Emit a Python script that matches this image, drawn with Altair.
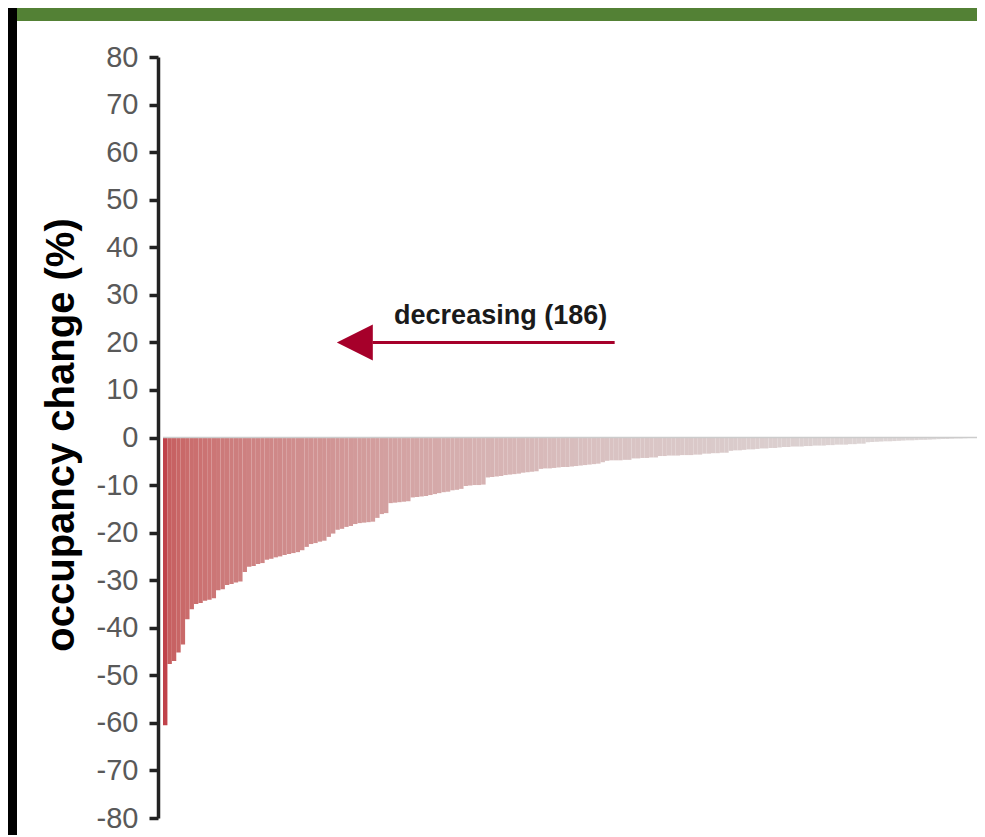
import altair as alt
import pandas as pd

# ---- data ----
values = [
    -60.5, -47.6, -47.0, -45.2, -43.5, -38.2, -36.1, -35.0, -34.8, -34.3,
    -34.1, -33.8, -32.1, -31.9, -31.0, -30.8, -30.5, -30.3, -28.3, -27.2,
    -27.0, -26.6, -26.4, -25.7, -25.5, -25.2, -25.0, -24.7, -24.5, -24.3,
    -24.1, -23.7, -23.0, -22.4, -22.2, -21.9, -21.7, -20.9, -20.2, -19.4,
    -19.2, -18.8, -18.6, -18.2, -18.0, -17.9, -17.8, -17.7, -16.9, -16.1,
    -15.9, -13.8, -13.7, -13.6, -13.5, -13.4, -12.6, -12.5, -12.4, -12.3,
    -12.1, -11.9, -11.7, -11.5, -11.4, -11.1, -11.0, -10.8, -10.2, -10.1,
    -10.0, -10.0, -9.9, -8.4, -8.3, -8.2, -8.1, -7.9, -7.8, -7.7,
    -7.6, -7.4, -7.3, -7.2, -7.1,
    -6.6, -6.5, -6.5, -6.4, -6.3, -6.2, -6.2, -6.1, -6.0, -5.9, -5.8, -5.7, -5.6, -5.5,
    -5.2,
    -4.9, -4.8, -4.8, -4.8, -4.7, -4.7,
    -4.4, -4.4, -4.3, -4.3, -4.2, -4.2,
    -3.9, -3.9, -3.8, -3.8, -3.8, -3.7, -3.7, -3.7, -3.6, -3.6,
    -3.4, -3.4, -3.3, -3.3, -3.2, -3.2,
    -2.8, -2.7, -2.7, -2.6, -2.5, -2.5, -2.4, -2.3, -2.3, -2.2, -2.2, -2.1,
    -2.0, -2.0, -1.9, -1.9, -1.9, -1.8, -1.8, -1.7, -1.7, -1.7, -1.6, -1.6,
    -1.5, -1.5, -1.5, -1.4, -1.4, -1.3, -1.3,
    -1.0, -0.95, -0.9, -0.85, -0.8, -0.8, -0.75, -0.7, -0.65, -0.6, -0.6,
    -0.55, -0.5, -0.5, -0.45, -0.4,
    -0.35, -0.3, -0.3, -0.25, -0.2, -0.2, -0.15, -0.1, -0.08, -0.05, -0.02,
]
ranks = list(range(len(values)))

y_ticks = list(range(-80, 81, 10))
color_stops = [0, 1, 5, 15, 30, 50, 70, 100, 140, 185]
color_range = ["#c0424a", "#c65f60", "#ca6c6c", "#cd7d7d", "#d08e8e",
               "#d3a0a0", "#d6b1b1", "#d9c2c2", "#dbcfcf", "#dedada"]

arrow_x = [47.4]
arrow_x2 = [102.2]
arrow_tip_x = [43.4]
arrow_y = [20]
label_x = [76.4]
label_y = [23.9]
label_text = ["decreasing (186)"]
y_title = "occupancy change (%)"

# ---- layout ----
SVG_W, SVG_H = 969, 827
PL, PT = 163, 57           # page position of the plot origin
PLOT_W, H = 822, 761       # full plot extent (right part is cropped by the page)
W = SVG_W - (PL - 8)       # visible plot width
N = len(values)

df = pd.DataFrame({"rank": ranks, "change": values})
x_scale = alt.Scale(domain=[0, N], range=[0, PLOT_W], nice=False, zero=False)
y_scale = alt.Scale(domain=[-80, 80], nice=False, zero=False)
one = alt.Data(values=[{}])

banner = alt.Chart(one).mark_rect(color="#538135").encode(
    x=alt.value(17 - PL), x2=alt.value(PLOT_W), y=alt.value(0 - PT), y2=alt.value(21 - PT)
)
left_bar = alt.Chart(one).mark_rect(color="#000000").encode(
    x=alt.value(8 - PL), x2=alt.value(17 - PL), y=alt.value(0 - PT), y2=alt.value(840 - PT)
)

bars = alt.Chart(df).transform_calculate(r2="datum.rank + 1").mark_bar(strokeWidth=0).encode(
    x=alt.X("rank:Q", scale=x_scale, axis=None),
    x2="r2:Q",
    y=alt.Y("change:Q", scale=y_scale, axis=alt.Axis(
        values=y_ticks, title=None, grid=False, offset=5,
        domainColor="#222222", domainWidth=3.5, tickColor="#222222", tickWidth=3.5,
        tickSize=9, labelFontSize=29, labelColor="#595959", labelPadding=11,
        labelFont="Liberation Sans", labelExpr="'' + datum.value",
        labelFlush=False, labelOverlap=False)),
    y2=alt.datum(0),
    color=alt.Color("rank:Q", scale=alt.Scale(domain=color_stops, range=color_range), legend=None),
)

zero = alt.Chart(pd.DataFrame({"a": [0], "b": [N], "y": [0]})).mark_rule(
    color="#cccccc", strokeWidth=1.5).encode(
    x=alt.X("a:Q", scale=x_scale), x2="b:Q", y=alt.Y("y:Q", scale=y_scale))

arrow_df = pd.DataFrame({"x": arrow_x, "x2": arrow_x2, "tip": arrow_tip_x, "y": arrow_y})
arrow_line = alt.Chart(arrow_df).mark_rule(color="#a6002a", strokeWidth=3).encode(
    x=alt.X("x:Q", scale=x_scale), x2="x2:Q", y=alt.Y("y:Q", scale=y_scale))
arrow_head = alt.Chart(arrow_df).mark_point(
    shape="M-1,0L1,-1L1,1Z", size=1296, filled=True, color="#a6002a", opacity=1, strokeWidth=0).encode(
    x=alt.X("tip:Q", scale=x_scale), y=alt.Y("y:Q", scale=y_scale))

label_df = pd.DataFrame({"x": label_x, "y": label_y, "t": label_text})
label = alt.Chart(label_df).mark_text(
    fontSize=27, fontWeight="bold", font="Liberation Sans", color="#1a1a1a",
    align="center", baseline="alphabetic").encode(
    x=alt.X("x:Q", scale=x_scale), y=alt.Y("y:Q", scale=y_scale), text="t:N")

title = alt.Chart(one).mark_text(
    text=y_title, angle=270, fontSize=40, fontWeight="bold", font="Liberation Sans",
    color="#000000", align="center", baseline="middle").encode(
    x=alt.value(62 - PL), y=alt.value(435 - PT))

chart = alt.layer(banner, left_bar, bars, zero, arrow_line, arrow_head, label, title).properties(
    width=W, height=H, background="white",
    autosize=alt.AutoSizeParams(type="none"),
    padding={"left": PL - 8, "top": PT - 8, "right": 0, "bottom": SVG_H - (PT - 8) - H},
).configure_view(stroke=None)

chart.save("out.html", embed_options={"renderer": "svg", "actions": False})
